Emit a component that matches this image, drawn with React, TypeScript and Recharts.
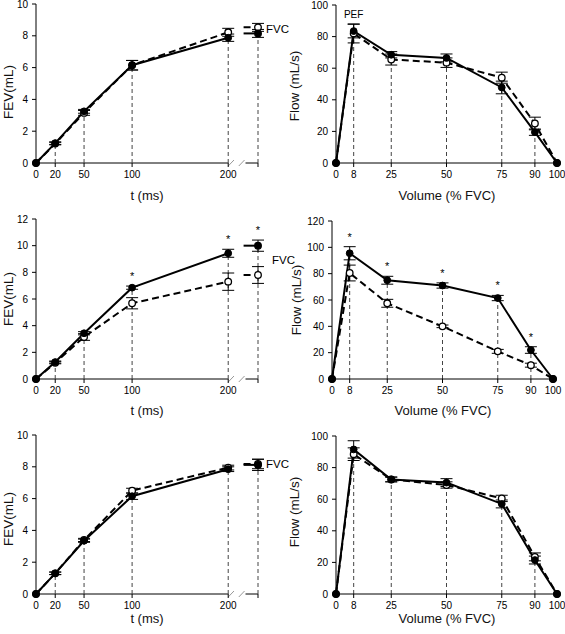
import React from "react";
import {
  LineChart,
  Line,
  XAxis,
  YAxis,
  ErrorBar,
  ReferenceLine,
  ReferenceDot,
  LabelList,
} from "recharts";

// FEV panels: time (ms); FVC sits past the axis break
const fevTimes = [0, 20, 50, 100, 200];
const FVC_X = 231;
const STUB_X = 216;
const fevTicks = [0, 20, 50, 100, 200, FVC_X];
const breakMarks = [203, 214];

// Flow panels: volume (% FVC)
const volumes = [0, 8, 25, 50, 75, 90, 100];

// top row
const fevASolid = [0, 1.25, 3.25, 6.15, 7.88];
const fevADashed = [0, 1.22, 3.15, 6.15, 8.22];
const fevASolidErr = [null, 0.08, 0.12, 0.3, 0.23];
const fevADashedErr = [null, 0.08, 0.15, 0.3, 0.25];
const fvcA = [8.15, 8.53, 0.25, 0.25]; // solid, dashed, solid err, dashed err

const flowASolid = [0, 83.5, 68.5, 66.5, 47.8, 19.5, 0];
const flowADashed = [0, 82, 65.5, 63.5, 54, 25, 0];
const flowASolidErr = [null, 4.3, 2, 2.5, 4, 2, null];
const flowADashedErr = [null, 6, 3.5, 3, 3.5, 4, null];

// middle row
const fevBSolid = [0, 1.27, 3.43, 6.85, 9.43];
const fevBDashed = [0, 1.22, 3.15, 5.68, 7.3];
const fevBSolidErr = [null, 0.08, 0.12, 0.12, 0.3];
const fevBDashedErr = [null, 0.08, 0.25, 0.42, 0.65];
const fvcB = [10.0, 7.8, 0.42, 0.63];
const fevBSig = [false, false, false, true, true, true];

const flowBSolid = [0, 95.5, 75, 71, 61.5, 22, 0];
const flowBDashed = [0, 80.5, 57.5, 40, 21, 10.5, 0];
const flowBSolidErr = [null, 5, 3, 2, 2, 2.5, null];
const flowBDashedErr = [null, 6, 3, 1, 1.5, 1.5, null];
const flowBSig = [false, true, true, true, true, true, false];

// bottom row
const fevCSolid = [0, 1.3, 3.35, 6.15, 7.85];
const fevCDashed = [0, 1.3, 3.4, 6.5, 7.95];
const fevCSolidErr = [null, 0.08, 0.1, 0.2, 0.15];
const fevCDashedErr = [null, 0.08, 0.1, 0.15, 0.15];
const fvcC = [8.12, 8.18, 0.35, 0.3];

const flowCSolid = [0, 91.5, 72.5, 70.5, 57, 21.5, 0];
const flowCDashed = [0, 88.5, 72.5, 69, 60.5, 23.5, 0];
const flowCSolidErr = [null, 5.5, 1.5, 2.5, 2.5, 2.5, null];
const flowCDashedErr = [null, 4, 1.5, 2, 2, 2.5, null];

const noSig = [false, false, false, false, false, false, false];

const FONT = "'Liberation Sans', Arial, sans-serif";

function fevRows(s: number[], d: number[], sE: any[], dE: any[], fvc: number[], sig: boolean[]) {
  const rows: any[] = fevTimes.map((t, i) => ({
    x: t,
    solid: s[i],
    dashed: d[i],
    solidErr: sE[i],
    dashedErr: dE[i],
    star: sig[i] ? s[i] + (sE[i] ?? 0) : null,
    drop: i > 0 ? Math.max(s[i], d[i]) : null,
  }));
  rows.push({ x: STUB_X, fvcS: fvc[0], fvcD: fvc[1] });
  rows.push({
    x: FVC_X,
    fvcS: fvc[0],
    fvcD: fvc[1],
    fvcSErr: fvc[2],
    fvcDErr: fvc[3],
    star: sig[5] ? fvc[0] + fvc[2] : null,
    drop: Math.max(fvc[0], fvc[1]),
  });
  return rows;
}

function flowRows(s: number[], d: number[], sE: any[], dE: any[], sig: boolean[]) {
  return volumes.map((v, i) => ({
    x: v,
    solid: s[i],
    dashed: d[i],
    solidErr: sE[i],
    dashedErr: dE[i],
    star: sig[i] ? s[i] + (sE[i] ?? 0) : null,
    drop: i > 0 && i < volumes.length - 1 ? Math.max(s[i], d[i]) : null,
  }));
}

// rotated axis title; baseline rounded to whole pixels so the glyphs stay crisp
const YTitle = (props: any) => {
  const { viewBox, text, dx, dy } = props;
  const fs = 13.5;
  const cx = Math.round(viewBox.x + dx + fs * 0.35);
  const cy = Math.round(viewBox.y + viewBox.height / 2 + dy);
  return (
    <text
      x={cx}
      y={cy}
      transform={`rotate(-90 ${cx} ${cy})`}
      textAnchor="middle"
      fontSize={fs}
      fontFamily={FONT}
      fill="#111"
    >
      {text}
    </text>
  );
};

const XTitle = (props: any) => {
  const { viewBox, text, dy } = props;
  const fs = 13;
  return (
    <text
      x={Math.round(viewBox.x + viewBox.width / 2)}
      y={Math.round(viewBox.y + dy + fs * 0.35)}
      textAnchor="middle"
      fontSize={fs}
      fontFamily={FONT}
      fill="#111"
    >
      {text}
    </text>
  );
};

const StarLabel = (props: any) => {
  const { value, index } = props;
  if (value == null) return null;
  const x = props.x ?? props.viewBox?.x;
  const y = props.y ?? props.viewBox?.y;
  return (
    <text key={`star-${index}`} x={x} y={Math.round(y - 6)} textAnchor="middle" fontSize={11} fontFamily={FONT} fill="#000">
      *
    </text>
  );
};

const fvcDot = (filled: boolean) => (props: any) => {
  const { cx, cy, payload, index } = props;
  if (!payload || payload.x !== FVC_X || cy == null) return <g key={`fd-${index}`} />;
  return (
    <circle
      key={`fd-${index}`}
      cx={cx}
      cy={cy}
      r={3.3}
      fill={filled ? "#000" : "#fff"}
      stroke="#000"
      strokeWidth={1.3}
    />
  );
};

const solidDot = { r: 3.4, fill: "#000", stroke: "#000", strokeWidth: 1 };
const openDot = { r: 3.3, fill: "#fff", stroke: "#000", strokeWidth: 1.3, strokeDasharray: "none" };
const tickStyle = { fontSize: 10, fontFamily: FONT, fill: "#000" };
const DASH = "7 4";
const LINE_W = 2;

interface PanelCfg {
  left: number;
  top: number;
  width: number;
  height: number;
  margin: { top: number; right: number; bottom: number; left: number };
  yWidth: number;
  yMax: number;
  yTicks: number[];
  yTitle: string;
  yDx: number;
  yDy: number;
  xTitleDy: number;
  fev: boolean;
  fvcLabelY?: number;
  fvcLabelOffset?: number;
  pef?: boolean;
}

function Panel({ cfg, rows }: { cfg: PanelCfg; rows: any[] }) {
  const plotH = cfg.height - cfg.margin.top - cfg.margin.bottom - 30;
  const slashY = (3 * cfg.yMax) / plotH;
  return (
    <div style={{ position: "absolute", left: cfg.left, top: cfg.top }}>
      <LineChart width={cfg.width} height={cfg.height} data={rows} margin={cfg.margin}>
        <XAxis
          type="number"
          dataKey="x"
          domain={cfg.fev ? [0, FVC_X] : [0, 100]}
          ticks={cfg.fev ? fevTicks : volumes}
          interval={0}
          tickFormatter={(v: number) => (v === FVC_X ? "" : String(v))}
          tick={tickStyle}
          tickSize={4}
          tickMargin={4}
          height={30}
          axisLine={cfg.fev ? false : { stroke: "#000" }}
          tickLine={{ stroke: "#000" }}
          label={<XTitle text={cfg.fev ? "t (ms)" : "Volume (% FVC)"} dy={cfg.xTitleDy} />}
        />
        <YAxis
          type="number"
          domain={[0, cfg.yMax]}
          ticks={cfg.yTicks}
          interval={0}
          width={cfg.yWidth}
          tick={tickStyle}
          tickSize={4}
          tickMargin={4}
          axisLine={{ stroke: "#000" }}
          tickLine={{ stroke: "#000" }}
          label={<YTitle text={cfg.yTitle} dx={cfg.yDx} dy={cfg.yDy} />}
        />
        {cfg.fev && (
          <ReferenceLine segment={[{ x: 0, y: 0 }, { x: 200, y: 0 }]} stroke="#000" ifOverflow="visible" />
        )}
        {cfg.fev && (
          <ReferenceLine segment={[{ x: 218, y: 0 }, { x: FVC_X, y: 0 }]} stroke="#000" ifOverflow="visible" />
        )}
        {cfg.fev &&
          breakMarks.map((b) => (
            <ReferenceLine
              key={`br-${b}`}
              segment={[{ x: b - 3, y: -slashY }, { x: b + 3, y: slashY }]}
              stroke="#999"
              ifOverflow="visible"
            />
          ))}
        {rows
          .filter((r) => r.drop != null)
          .map((r) => (
            <ReferenceLine
              key={`drop-${r.x}`}
              segment={[{ x: r.x, y: 0 }, { x: r.x, y: r.drop }]}
              stroke="#444"
              strokeDasharray="4 3"
            />
          ))}
        <Line
          dataKey="dashed"
          stroke="#000"
          strokeWidth={LINE_W}
          strokeDasharray={DASH}
          dot={openDot}
          isAnimationActive={false}
        >
          <ErrorBar dataKey="dashedErr" width={6} stroke="#000" strokeWidth={1} direction="y" />
        </Line>
        <Line dataKey="solid" stroke="#000" strokeWidth={LINE_W} dot={solidDot} isAnimationActive={false}>
          <ErrorBar dataKey="solidErr" width={6} stroke="#000" strokeWidth={1} direction="y" />
        </Line>
        {cfg.fev && (
          <Line
            dataKey="fvcD"
            stroke="#000"
            strokeWidth={LINE_W}
            strokeDasharray={DASH}
            dot={fvcDot(false)}
            isAnimationActive={false}
          >
            <ErrorBar dataKey="fvcDErr" width={6} stroke="#000" strokeWidth={1} direction="y" />
          </Line>
        )}
        {cfg.fev && (
          <Line dataKey="fvcS" stroke="#000" strokeWidth={LINE_W} dot={fvcDot(true)} isAnimationActive={false}>
            <ErrorBar dataKey="fvcSErr" width={6} stroke="#000" strokeWidth={1} direction="y" />
          </Line>
        )}
        <Line dataKey="star" stroke="none" dot={false} activeDot={false} isAnimationActive={false}>
          <LabelList dataKey="star" content={StarLabel} />
        </Line>
        {cfg.fev && cfg.fvcLabelY != null && (
          <ReferenceDot
            x={FVC_X}
            y={cfg.fvcLabelY}
            r={0}
            stroke="none"
            fill="none"
            label={{ value: "FVC", position: "right", offset: cfg.fvcLabelOffset ?? 8, fontSize: 11.5, fontFamily: FONT, fill: "#000" }}
          />
        )}
        {cfg.pef && (
          <ReferenceDot
            x={8}
            y={87.5}
            r={0}
            stroke="none"
            fill="none"
            label={{ value: "PEF", position: "top", offset: 7, fontSize: 10, fontFamily: FONT, fill: "#000" }}
          />
        )}
      </LineChart>
    </div>
  );
}

const fevYTicks10 = [0, 2, 4, 6, 8, 10];
const fevYTicks12 = [0, 2, 4, 6, 8, 10, 12];
const flowYTicks100 = [0, 20, 40, 60, 80, 100];
const flowYTicks120 = [0, 20, 40, 60, 80, 100, 120];

const panels: { cfg: PanelCfg; rows: any[] }[] = [
  {
    cfg: {
      left: 0, top: 0, width: 300, height: 205,
      margin: { top: 4, right: 42, bottom: 12, left: 0 },
      yWidth: 36, yMax: 10, yTicks: fevYTicks10, yTitle: "FEV(mL)", yDx: 8, yDy: 8,
      xTitleDy: 32, fev: true, fvcLabelY: 8.43, fvcLabelOffset: 8,
    },
    rows: fevRows(fevASolid, fevADashed, fevASolidErr, fevADashedErr, fvcA, noSig),
  },
  {
    cfg: {
      left: 280, top: 0, width: 285, height: 205,
      margin: { top: 5, right: 8, bottom: 12, left: 0 },
      yWidth: 56, yMax: 100, yTicks: flowYTicks100, yTitle: "Flow (mL/s)", yDx: 14, yDy: 2,
      xTitleDy: 32, fev: false, pef: true,
    },
    rows: flowRows(flowASolid, flowADashed, flowASolidErr, flowADashedErr, noSig),
  },
  {
    cfg: {
      left: 0, top: 205, width: 300, height: 222,
      margin: { top: 14, right: 42, bottom: 18, left: 0 },
      yWidth: 36, yMax: 12, yTicks: fevYTicks12, yTitle: "FEV(mL)", yDx: 8, yDy: 0,
      xTitleDy: 31, fev: true, fvcLabelY: 8.93, fvcLabelOffset: 14,
    },
    rows: fevRows(fevBSolid, fevBDashed, fevBSolidErr, fevBDashedErr, fvcB, fevBSig),
  },
  {
    cfg: {
      left: 280, top: 205, width: 285, height: 222,
      margin: { top: 16, right: 12, bottom: 18, left: 0 },
      yWidth: 52, yMax: 120, yTicks: flowYTicks120, yTitle: "Flow (mL/s)", yDx: 16, yDy: 0,
      xTitleDy: 31, fev: false,
    },
    rows: flowRows(flowBSolid, flowBDashed, flowBSolidErr, flowBDashedErr, flowBSig),
  },
  {
    cfg: {
      left: 0, top: 415, width: 300, height: 219,
      margin: { top: 20, right: 42, bottom: 10, left: 0 },
      yWidth: 36, yMax: 10, yTicks: fevYTicks10, yTitle: "FEV(mL)", yDx: 8, yDy: 4,
      xTitleDy: 24, fev: true, fvcLabelY: 8.19, fvcLabelOffset: 8,
    },
    rows: fevRows(fevCSolid, fevCDashed, fevCSolidErr, fevCDashedErr, fvcC, noSig),
  },
  {
    cfg: {
      left: 280, top: 415, width: 285, height: 219,
      margin: { top: 21, right: 8, bottom: 10, left: 0 },
      yWidth: 56, yMax: 100, yTicks: flowYTicks100, yTitle: "Flow (mL/s)", yDx: 14, yDy: -3,
      xTitleDy: 24, fev: false,
    },
    rows: flowRows(flowCSolid, flowCDashed, flowCSolidErr, flowCDashedErr, noSig),
  },
];

export default function App() {
  return (
    <div
      style={{
        position: "absolute",
        left: 0,
        top: 0,
        width: 565,
        height: 634,
        background: "#fff",
        overflow: "hidden",
      }}
    >
      {panels.map((p, i) => (
        <Panel key={i} cfg={p.cfg} rows={p.rows} />
      ))}
    </div>
  );
}
